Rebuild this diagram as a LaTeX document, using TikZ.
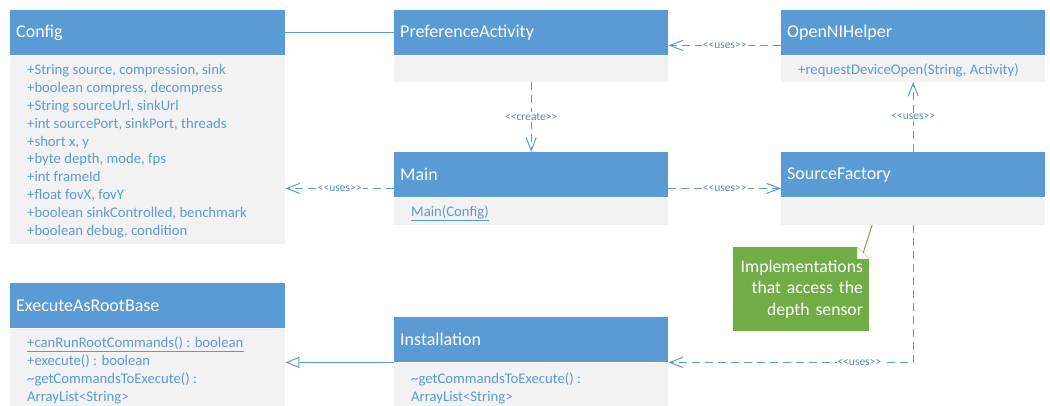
\documentclass[tikz,border=0pt]{standalone}
\usepackage{fontspec}
\setmainfont{Carlito}
\usetikzlibrary{arrows.meta,calc}
\definecolor{hdrblue}{HTML}{5B9BD5}
\definecolor{bodygray}{HTML}{F2F2F2}
\definecolor{membertext}{HTML}{5B9BD5}
\definecolor{stereotext}{HTML}{5A86C0}
\definecolor{notegreen}{HTML}{70AD47}
% stereotype brackets, kept as two separate characters
\newcommand{\stLeft}{<\kern0pt<}
\newcommand{\stRight}{>\kern0pt>}
\begin{document}
\begin{tikzpicture}[x=1pt,y=-1pt,
  classhdr/.style={fill=hdrblue, text=white, anchor=north west,
    font=\fontsize{18}{21.6}\selectfont, minimum height=45pt,
    text width=#1, inner xsep=6pt, inner ysep=0pt, align=left},
  classhdr/.default=263pt,
  classbody/.style={fill=bodygray, anchor=north west, inner sep=0pt,
    minimum width=275pt, minimum height=#1},
  member/.style={text=membertext, font=\fontsize{14.7}{17.9}\selectfont,
    anchor=base west, inner sep=0pt},
  stereo/.style={fill=white, text=stereotext, inner sep=1pt,
    font=\fontsize{11.5}{13}\selectfont},
  dep/.style={draw=hdrblue, line width=1pt, dash pattern=on 8pt off 5pt,
    -{Straight Barb[length=13pt,width=10pt]}},
  assoc/.style={draw=hdrblue, line width=1pt},
  inherit/.style={draw=hdrblue, line width=1pt,
    -{Triangle[open,length=14pt,width=11pt,fill=white]}},
  notebox/.style={fill=notegreen, text=white, align=right,
    font=\fontsize{17.7}{21.5}\selectfont, text width=124pt,
    inner xsep=6pt, inner ysep=0pt, minimum height=84pt},
  notelink/.style={draw=notegreen, line width=1pt}]
\useasboundingbox (0,0) rectangle (1050,405);

% ---- Config ----
\node[classhdr] (cfg) at (10,10) {Config};
\node[classbody=188pt] (cfgb) at (cfg.south west) {};
\foreach \t [count=\i] in {
  {+String source, compression, sink},
  {+boolean compress, decompress},
  {+String sourceUrl, sinkUrl},
  {+int sourcePort, sinkPort, threads},
  {+short x, y},
  {+byte depth, mode, fps},
  {+int frameId},
  {+float fovX, fovY},
  {+boolean sinkControlled, benchmark},
  {+boolean debug, condition}}
  \node[member] (cfgm\i) at ($(cfgb.north west)+(17,{19+(\i-1)*17.9})$) {\t};

% ---- PreferenceActivity ----
\node[classhdr=262pt] (pref) at (394,10) {PreferenceActivity};
\node[classbody=26pt, minimum width=274pt] (prefb) at (pref.south west) {};

% ---- OpenNIHelper ----
\node[classhdr=252pt] (opn) at (781,10) {OpenNIHelper};
\node[classbody=26pt, minimum width=264pt] (opnb) at (opn.south west) {};
\node[member] (opnm1) at ($(opnb.north west)+(17,19)$)
  {+requestDeviceOpen(String, Activity)};

% ---- Main ----
\node[classhdr=262pt] (main) at (394,152) {Main};
\node[classbody=27pt, minimum width=274pt] (mainb) at (main.south west) {};
\node[member] (mainm1) at ($(mainb.north west)+(17,19)$)
  {\underline{Main(Config)}};

% ---- SourceFactory ----
\node[classhdr=252pt] (sf) at (781,152) {SourceFactory};
\node[classbody=27pt, minimum width=264pt] (sfb) at (sf.south west) {};

% ---- ExecuteAsRootBase ----
\node[classhdr] (erb) at (10,283) {ExecuteAsRootBase};
\node[classbody=90pt] (erbb) at (erb.south west) {};
\node[member] (erbm1) at ($(erbb.north west)+(17,19)$)
  {\underline{+canRunRootCommands() : boolean}};
\node[member] (erbm2) at ($(erbb.north west)+(17,37)$)
  {+execute() : boolean};
\node[member] (erbm3) at ($(erbb.north west)+(17,55)$)
  {\textasciitilde getCommandsToExecute() :};
\node[member] (erbm4) at ($(erbb.north west)+(17,73)$)
  {ArrayList<String>};

% ---- Installation ----
\node[classhdr=262pt] (inst) at (394,317) {Installation};
\node[classbody=60pt, minimum width=274pt] (instb) at (inst.south west) {};
\node[member] (instm1) at ($(instb.north west)+(17,21)$)
  {\textasciitilde getCommandsToExecute() :};
\node[member] (instm2) at ($(instb.north west)+(17,39)$)
  {ArrayList<String>};

% ---- Note ----
\node[notebox] (note) at (801,289) {Implementations\\that access the\\depth sensor};
\fill[white] ([xshift=-12pt]note.north east) -- ([xshift=1pt,yshift=1pt]note.north east)
  -- ([yshift=-12pt]note.north east) -- cycle;
\draw[notegreen!40, fill=white, line width=0.6pt]
  ([xshift=-12pt]note.north east) -- ([xshift=-12pt,yshift=-12pt]note.north east)
  -- ([yshift=-12pt]note.north east) -- cycle;
\draw[notelink] ([xshift=-41pt]sfb.south) -- ([xshift=-6pt,yshift=-6pt]note.north east);

% ---- Connectors ----
\draw[assoc] (cfg.east) -- (pref.west);
\draw[dep] ([yshift=10pt]opn.south west) -- node[stereo] (l1) {\stLeft uses\stRight}
  ([yshift=10pt]pref.south east);
\draw[dep] (prefb.south) -- node[stereo] (l2) {\stLeft create\stRight} (main.north);
\coordinate (mL) at ([yshift=9pt]main.south west);
\draw[dep] (mL) -- node[stereo] (l3) {\stLeft uses\stRight} (mL -| cfgb.east);
\draw[dep] ([yshift=9pt]main.south east) -- node[stereo] (l4) {\stLeft uses\stRight}
  ([yshift=9pt]sf.south west);
\draw[dep] (sf.north) -- node[stereo] (l5) {\stLeft uses\stRight} (opnb.south);
\draw[dep] (sfb.south) |- node[stereo, pos=0.61] (l6) {\stLeft uses\stRight} (inst.south east);
\draw[inherit] (inst.south west) -- (inst.south west -| erbb.east);
\end{tikzpicture}
\end{document}
